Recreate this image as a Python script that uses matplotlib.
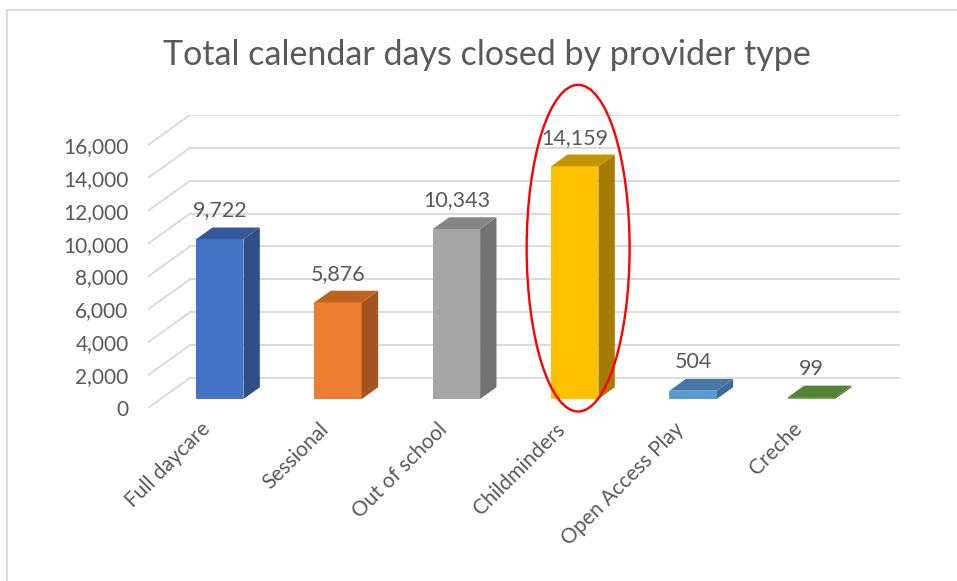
import matplotlib
matplotlib.use("Agg")
import matplotlib.pyplot as plt
from matplotlib.patches import Polygon, Ellipse
from matplotlib.lines import Line2D
from matplotlib.transforms import ScaledTranslation

# Data
categories = ["Full daycare", "Sessional", "Out of school", "Childminders",
              "Open Access Play", "Creche"]
values = [9722, 5876, 10343, 14159, 504, 99]
yticks = list(range(0, 16001, 2000))

front_colors = ["#4472C4", "#ED7D31", "#A5A5A5", "#FFC000", "#5B9BD5", "#70AD47"]
side_colors = ["#2F4F87", "#A5541F", "#727272", "#A67C00", "#3F6C96", "#4E7A31"]
top_colors = ["#34599C", "#C0621F", "#858585", "#C49300", "#4677A6", "#548235"]

plt.rcParams["font.family"] = ["Lato", "DejaVu Sans"]
text_col = "#595959"
grid_col = "#d9d9d9"

# oblique depth of the floor, in data units
DX = 0.355
DY = 1830
D0 = 0.30   # bar front face position in depth
D1 = 0.39   # bar depth
W = 0.40    # bar width

fig = plt.figure(figsize=(9.57, 5.81), dpi=100)
ax = fig.add_axes([148 / 957, 173 / 581, 752 / 957, 293 / 581])
ax.set_xlim(-0.5, len(categories) - 0.5 + DX)
ax.set_ylim(0, yticks[-1] + DY)

# walls
for v in yticks:
    ax.plot([-0.5, -0.5 + DX], [v, v + DY], color=grid_col, lw=1.3, zorder=1)
    ax.plot([-0.5 + DX, len(categories) - 0.5 + DX], [v + DY, v + DY],
            color=grid_col, lw=1.3, zorder=1)

# bars
for i, v in enumerate(values):
    x0 = i - W / 2 + D0 * DX
    y0 = D0 * DY
    ax.bar(i + D0 * DX, v, width=W, bottom=y0, color=front_colors[i], zorder=3)
    side = [(x0 + W, y0), (x0 + W + D1 * DX, y0 + D1 * DY),
            (x0 + W + D1 * DX, y0 + D1 * DY + v), (x0 + W, y0 + v)]
    top = [(x0, y0 + v), (x0 + W, y0 + v),
           (x0 + W + D1 * DX, y0 + v + D1 * DY), (x0 + D1 * DX, y0 + v + D1 * DY)]
    ax.add_patch(Polygon(side, closed=True, color=side_colors[i], zorder=3, lw=0))
    ax.add_patch(Polygon(top, closed=True, color=top_colors[i], zorder=3, lw=0))
    ax.annotate(f"{v:,}", (i + D0 * DX, y0 + v + D1 * DY), xytext=(0, 5),
                textcoords="offset points", ha="center", va="bottom",
                fontsize=15.5, color=text_col, zorder=5)

# highlight around Childminders
ax.add_patch(Ellipse((3.135, 9726), 0.87, 19878, fill=False, edgecolor="#ff0000",
                     lw=1.7, clip_on=False, zorder=6))

ax.set_yticks(yticks)
ax.set_yticklabels([f"{t:,}" for t in yticks], fontsize=15, color=text_col)
ax.set_xticks(range(len(categories)))
ax.set_xticklabels(categories, fontsize=15, color=text_col, rotation=45,
                   ha="right", va="center", rotation_mode="anchor")
shift = ScaledTranslation(4 / 100, -6 / 100, fig.dpi_scale_trans)
for lab in ax.get_xticklabels():
    lab.set_transform(lab.get_transform() + shift)
ax.tick_params(axis="y", length=0, pad=14)
ax.tick_params(axis="x", length=0, pad=13)
for s in ax.spines.values():
    s.set_visible(False)

fig.text(0.509, 1 - 55 / 581, "Total calendar days closed by provider type",
         ha="center", va="center", fontsize=24.5, color=text_col)

# chart area border (top and left visible)
fig.add_artist(Line2D([7 / 957, 1], [1 - 10 / 581, 1 - 10 / 581],
                      transform=fig.transFigure, color=grid_col, lw=1.3))
fig.add_artist(Line2D([7 / 957, 7 / 957], [0, 1 - 10 / 581],
                      transform=fig.transFigure, color=grid_col, lw=1.3))

fig.savefig("out.png", dpi=100)
